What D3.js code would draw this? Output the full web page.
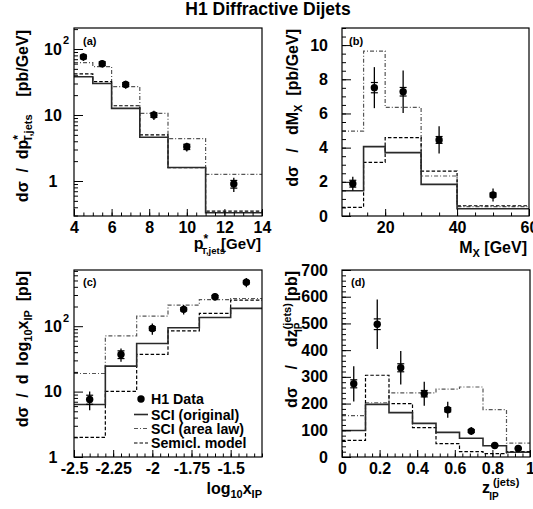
<!DOCTYPE html>
<html><head><meta charset="utf-8">
<script src="https://cdn.jsdelivr.net/npm/d3@7"></script>
<style>
body{margin:0;background:#fff}
svg{display:block}
text{font-family:"Liberation Sans",Arial,Helvetica,sans-serif;font-weight:bold;fill:#000}
</style>
</head><body>
<svg id="c" width="533" height="509"></svg>
<script>
// ================= DATA =================
// (a) d sigma / d pT*
const ptEdges   = [4, 5, 6, 7.5, 9, 11, 14];
const ptCenters = [4.5, 5.5, 6.75, 8.25, 10, 12.5];
const ptData    = [76, 60, 29, 10, 3.3, 0.9];
const ptErrTot  = [10, 8, 4, 1.6, 0.5, 0.22];
const ptErrStat = [5, 4, 2, 0.8, 0.3, 0.12];
const ptSciOrig = [38, 30, 12.6, 4.6, 1.6, 0.33];
const ptSciArea = [62, 54, 27, 10.6, 4.4, 1.26];
const ptSemicl  = [42, 32, 13.8, 5.0, 1.6, 0.35];
const ptTicks   = [4, 6, 8, 10, 12, 14];

// (b) d sigma / d M_X
const mxEdges   = [8, 14, 20, 30, 40, 60];
const mxCenters = [11, 17, 25, 35, 50];
const mxData    = [1.89, 7.51, 7.27, 4.45, 1.23];
const mxErrTot  = [0.4, 1.2, 1.25, 0.8, 0.38];
const mxErrStat = [0.2, 0.3, 0.25, 0.2, 0.12];
const mxSciOrig = [1.48, 4.06, 3.71, 1.85, 0.42];
const mxSciArea = [4.97, 9.65, 6.36, 2.34, 0.55];
const mxSemicl  = [0.51, 3.14, 4.58, 2.63, 0.6];
const mxTicks   = [20, 40, 60];
const mxYTicks  = [0, 2, 4, 6, 8, 10];

// (c) d sigma / d log10 x_IP
const xpEdges   = [-2.5, -2.3, -2.1, -1.9, -1.7, -1.5, -1.3];
const xpCenters = [-2.4, -2.2, -2.0, -1.8, -1.6, -1.4];
const xpData    = [7.6, 37, 92, 181, 282, 469];
const xpErrTot  = [2.4, 8.5, 18, 30, 38, 75];
const xpErrStat = [1.2, 5, 6, 10, 12, 25];
const xpSciOrig = [6.35, 24.5, 54.5, 94.6, 136, 187];
const xpSciArea = [18.9, 71, 143, 210, 255, 265];
const xpSemicl  = [2.0, 10.1, 37, 85, 157, 250];
const xpTicks   = [-2.5, -2.25, -2, -1.75, -1.5];
const xpTickLabels = ["-2.5", "-2.25", "-2", "-1.75", "-1.5"];

// (d) d sigma / d z_IP
const zEdges   = [0, 0.125, 0.25, 0.375, 0.5, 0.625, 0.75, 0.875, 1];
const zCenters = [0.0625, 0.1875, 0.3125, 0.4375, 0.5625, 0.6875, 0.8125, 0.9375];
const zData    = [274, 497, 334, 237, 177, 97, 43, 32];
const zErrTot  = [66, 93, 63, 45, 30, 15, 8, 6];
const zErrStat = [15, 20, 15, 12, 8, 5, 3, 2];
const zSciOrig = [99, 197, 166, 126, 92, 70, 42, 18];
const zSciArea = [155, 203, 240, 240, 254, 262, 177, 52];
const zSemicl  = [62, 306, 200, 110, 50, 20, 13, 20];
const zTicks   = [0, 0.2, 0.4, 0.6, 0.8, 1];
const zTickLabels = ["0", "0.2", "0.4", "0.6", "0.8", "1"];
const zYTicks  = [0, 100, 200, 300, 400, 500, 600, 700];

const logTicks = [1, 10, 100];
const legendLabels = ["H1 Data", "SCI (original)", "SCI (area law)", "Semicl. model"];

// ================= DRAWING =================
const svg = d3.select('#c');
const S_ORIG = {c: '#2a2a2a', w: 1.6, d: null};
const S_AREA = {c: '#555', w: 1.2, d: '4,2,1,2'};
const S_SEMI = {c: '#000', w: 1.2, d: '3.5,2'};
const TICK_FS = 16, TITLE_FS = 16;

function hist(g, xs, ys, edges, vals, st) {
  const pts = vals.map((v, i) => [edges[i], v]);
  pts.push([edges[edges.length - 1], vals[vals.length - 1]]);
  const line = d3.line().x(d => xs(d[0])).y(d => ys(d[1])).curve(d3.curveStepAfter);
  g.append('path').attr('d', line(pts)).attr('fill', 'none')
    .attr('stroke', st.c).attr('stroke-width', st.w).attr('stroke-dasharray', st.d);
}

function points(g, xs, ys, cx, v, tot, stat) {
  cx.forEach((x, i) => {
    const px = xs(x);
    g.append('line').attr('x1', px).attr('x2', px)
      .attr('y1', ys(v[i] + tot[i])).attr('y2', ys(v[i] - tot[i]))
      .attr('stroke', '#000').attr('stroke-width', 1.3);
    [v[i] + stat[i], v[i] - stat[i]].forEach(sv => {
      g.append('line').attr('x1', px - 3.5).attr('x2', px + 3.5)
        .attr('y1', ys(sv)).attr('y2', ys(sv))
        .attr('stroke', '#000').attr('stroke-width', 1.2);
    });
    g.append('circle').attr('cx', px).attr('cy', ys(v[i])).attr('r', 3.7).attr('fill', '#000');
  });
}

function styleAxis(sel) {
  sel.attr('font-size', TICK_FS).attr('font-family', null);
  sel.select('.domain').remove();
  sel.selectAll('line').attr('stroke', '#000').attr('stroke-width', 1);
}

function bottomAxis(g, xs, yPix, majors, minors, fmt) {
  const gm = g.append('g').attr('transform', `translate(0,${yPix})`)
    .call(d3.axisBottom(xs).tickValues(minors).tickSize(-3.5).tickSizeOuter(0).tickFormat(''));
  styleAxis(gm);
  const gM = g.append('g').attr('transform', `translate(0,${yPix})`)
    .call(d3.axisBottom(xs).tickValues(majors).tickSize(-7).tickSizeOuter(0).tickPadding(6).tickFormat(fmt));
  styleAxis(gM);
  return gM;
}

function leftAxis(g, ys, xPix, majors, minors, fmt, pad) {
  const gm = g.append('g').attr('transform', `translate(${xPix},0)`)
    .call(d3.axisLeft(ys).tickValues(minors).tickSize(-4).tickSizeOuter(0).tickFormat(''));
  styleAxis(gm);
  const gM = g.append('g').attr('transform', `translate(${xPix},0)`)
    .call(d3.axisLeft(ys).tickValues(majors).tickSize(-9).tickSizeOuter(0).tickPadding(pad).tickFormat(fmt));
  styleAxis(gM);
  return gM;
}

function logLeftAxis(g, ys, xPix) {
  const [lo, hi] = ys.domain();
  const minors = [];
  for (let e = -1; e <= 3; e++) for (let k = 2; k <= 9; k++) {
    const v = k * Math.pow(10, e);
    if (v >= lo && v <= hi) minors.push(v);
  }
  const gM = leftAxis(g, ys, xPix, logTicks, minors, d => d === 100 ? '10' : String(d), 21);
  gM.selectAll('.tick text').attr('text-anchor', 'middle').attr('x', -21);
  gM.selectAll('.tick').filter(d => d === 100).append('text')
    .attr('x', -11).attr('y', -5).attr('font-size', 11).attr('text-anchor', 'start').text('2');
}

function frame(g, xs, ys) {
  const [x0, x1] = xs.range(), [y0, y1] = ys.range();
  g.append('rect').attr('x', x0).attr('y', y1).attr('width', x1 - x0).attr('height', y0 - y1)
    .attr('fill', 'none').attr('stroke', '#000').attr('stroke-width', 1.2);
}

function clipFor(id, xs, ys) {
  const [x0, x1] = xs.range(), [y0, y1] = ys.range();
  svg.append('clipPath').attr('id', id).append('rect')
    .attr('x', x0).attr('y', y1).attr('width', x1 - x0).attr('height', y0 - y1);
  return svg.append('g').attr('clip-path', `url(#${id})`);
}

function panelLabel(x, y, s) {
  svg.append('text').attr('x', x).attr('y', y).attr('font-size', 11).text(s);
}

const SP = '\u00a0';
const sp = n => SP.repeat(n);

// Title
svg.append('text').attr('x', 268).attr('y', 15).attr('text-anchor', 'middle')
  .attr('font-size', 17.5).text('H1 Diffractive Dijets');

// ---------- Panel (a) ----------
{
  const xs = d3.scaleLinear().domain([4, 14]).range([74, 262]);
  const ys = d3.scaleLog().domain([0.295, 208]).range([216, 28]);
  const g = clipFor('ca', xs, ys);
  hist(g, xs, ys, ptEdges, ptSciArea, S_AREA);
  hist(g, xs, ys, ptEdges, ptSemicl, S_SEMI);
  hist(g, xs, ys, ptEdges, ptSciOrig, S_ORIG);
  points(g, xs, ys, ptCenters, ptData, ptErrTot, ptErrStat);
  bottomAxis(svg, xs, 216, ptTicks, d3.range(4, 14.01, 0.5), d3.format('d'));
  logLeftAxis(svg, ys, 74);
  frame(svg, xs, ys);
  panelLabel(83, 45, '(a)');
  // y title
  const t = svg.append('text').attr('transform', 'translate(28,30) rotate(-90)')
    .attr('text-anchor', 'end').attr('font-size', TITLE_FS);
  t.append('tspan').text('d\u03c3' + sp(2) + '/' + sp(2) + 'dp');
  t.append('tspan').attr('dy', -6).attr('font-size', 12).text('*');
  t.append('tspan').attr('dx', -7).attr('dy', 10).attr('font-size', 11).text('T,jets');
  t.append('tspan').attr('dy', -4).text(sp(4) + '[pb/GeV]');
  // x title
  const tx = svg.append('text').attr('x', 261).attr('y', 249).attr('text-anchor', 'end').attr('font-size', TITLE_FS);
  tx.append('tspan').text('p');
  tx.append('tspan').attr('dy', -6).attr('font-size', 12).text('*');
  tx.append('tspan').attr('dx', -7).attr('dy', 11).attr('font-size', 9.5).text('T,jets');
  tx.append('tspan').attr('dx', -4).attr('dy', -5).attr('font-size', 15).text('[GeV]');
}

// ---------- Panel (b) ----------
{
  const xs = d3.scaleLinear().domain([8, 60]).range([342, 529]);
  const ys = d3.scaleLinear().domain([0, 11]).range([216, 28]);
  const g = clipFor('cb', xs, ys);
  hist(g, xs, ys, mxEdges, mxSciArea, S_AREA);
  hist(g, xs, ys, mxEdges, mxSemicl, S_SEMI);
  hist(g, xs, ys, mxEdges, mxSciOrig, S_ORIG);
  points(g, xs, ys, mxCenters, mxData, mxErrTot, mxErrStat);
  bottomAxis(svg, xs, 216, mxTicks, d3.range(10, 60.01, 5), d3.format('d'));
  leftAxis(svg, ys, 342, mxYTicks, d3.range(0, 11.01, 0.5), d3.format('d'), 14);
  frame(svg, xs, ys);
  panelLabel(349, 45, '(b)');
  const t = svg.append('text').attr('transform', 'translate(298,29) rotate(-90)')
    .attr('text-anchor', 'end').attr('font-size', TITLE_FS);
  t.append('tspan').text('d\u03c3' + sp(3) + '/' + sp(3) + 'dM');
  t.append('tspan').attr('dy', 4).attr('font-size', 11).text('X');
  t.append('tspan').attr('dy', -4).text(sp(2) + '[pb/GeV]');
  const tx = svg.append('text').attr('x', 527).attr('y', 253).attr('text-anchor', 'end').attr('font-size', TITLE_FS);
  tx.append('tspan').text('M');
  tx.append('tspan').attr('dy', 4).attr('font-size', 11).text('X');
  tx.append('tspan').attr('dy', -4).text(SP + '[GeV]');
}

// ---------- Panel (c) ----------
{
  const xs = d3.scaleLinear().domain([-2.5, -1.3]).range([74, 262]);
  const ys = d3.scaleLog().domain([1, 723]).range([457, 270]);
  const g = clipFor('cc', xs, ys);
  hist(g, xs, ys, xpEdges, xpSciArea, S_AREA);
  hist(g, xs, ys, xpEdges, xpSemicl, S_SEMI);
  hist(g, xs, ys, xpEdges, xpSciOrig, S_ORIG);
  points(g, xs, ys, xpCenters, xpData, xpErrTot, xpErrStat);
  bottomAxis(svg, xs, 457, xpTicks, d3.range(-2.5, -1.299, 0.05), (d, i) => xpTickLabels[i]);
  logLeftAxis(svg, ys, 74);
  frame(svg, xs, ys);
  panelLabel(83, 286, '(c)');
  const t = svg.append('text').attr('transform', 'translate(28,271) rotate(-90)')
    .attr('text-anchor', 'end').attr('font-size', TITLE_FS);
  t.append('tspan').text('d\u03c3' + sp(2) + '/' + sp(2) + 'd' + sp(2) + 'log');
  t.append('tspan').attr('dy', 4).attr('font-size', 11).text('10');
  t.append('tspan').attr('dy', -4).text('x');
  t.append('tspan').attr('dy', 4).attr('font-size', 11).text('IP');
  t.append('tspan').attr('dy', -4).text(sp(2) + '[pb]');
  const tx = svg.append('text').attr('x', 262).attr('y', 494).attr('text-anchor', 'end').attr('font-size', TITLE_FS);
  tx.append('tspan').text('log');
  tx.append('tspan').attr('dy', 4).attr('font-size', 11).text('10');
  tx.append('tspan').attr('dy', -4).text('x');
  tx.append('tspan').attr('dy', 4).attr('font-size', 11).text('IP');

  // legend
  const lx = 141, rows = [399, 414.5, 428.5, 443];
  svg.append('circle').attr('cx', lx).attr('cy', rows[0]).attr('r', 3.7).attr('fill', '#000');
  [S_ORIG, S_AREA, S_SEMI].forEach((st, i) => {
    svg.append('line').attr('x1', lx - 7).attr('x2', lx + 7).attr('y1', rows[i + 1]).attr('y2', rows[i + 1])
      .attr('stroke', st.c).attr('stroke-width', st.w).attr('stroke-dasharray', st.d);
  });
  legendLabels.forEach((s, i) => {
    svg.append('text').attr('x', 151).attr('y', rows[i] + 5).attr('font-size', 14.2).text(s);
  });
}

// ---------- Panel (d) ----------
{
  const xs = d3.scaleLinear().domain([0, 1]).range([342, 530]);
  const ys = d3.scaleLinear().domain([0, 700]).range([457, 270]);
  const g = clipFor('cd', xs, ys);
  hist(g, xs, ys, zEdges, zSciArea, S_AREA);
  hist(g, xs, ys, zEdges, zSemicl, S_SEMI);
  hist(g, xs, ys, zEdges, zSciOrig, S_ORIG);
  points(g, xs, ys, zCenters, zData, zErrTot, zErrStat);
  bottomAxis(svg, xs, 457, zTicks, d3.range(0, 1.001, 0.04), (d, i) => zTickLabels[i]);
  leftAxis(svg, ys, 342, zYTicks, d3.range(0, 700.1, 20), d3.format('d'), 14);
  frame(svg, xs, ys);
  panelLabel(351, 286, '(d)');
  const t = svg.append('text').attr('transform', 'translate(297,271) rotate(-90)')
    .attr('text-anchor', 'end').attr('font-size', TITLE_FS);
  t.append('tspan').text('d\u03c3' + sp(4) + '/' + sp(4) + 'dz');
  t.append('tspan').attr('dy', -6).attr('font-size', 11).text('(jets)');
  t.append('tspan').attr('dx', -29).attr('dy', 11).attr('font-size', 10).text('IP');
  t.append('tspan').attr('dx', 17).attr('dy', -5).text(SP + '[pb]');
  const tx = svg.append('text').attr('x', 482).attr('y', 493).attr('font-size', TITLE_FS);
  tx.append('tspan').text('z');
  tx.append('tspan').attr('dy', -7).attr('font-size', 11).text(SP + '(jets)');
  tx.append('tspan').attr('dx', -30).attr('dy', 14).attr('font-size', 10).text('IP');
}
</script>
</body></html>
